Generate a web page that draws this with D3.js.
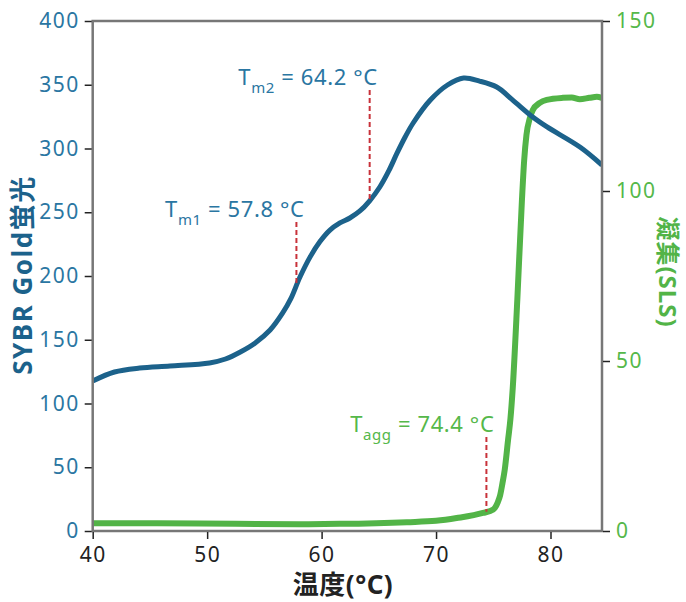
<!DOCTYPE html>
<html>
<head>
<meta charset="utf-8">
<script src="https://cdn.jsdelivr.net/npm/d3@7/dist/d3.min.js"></script>
<style>
  html, body { margin: 0; padding: 0; background: #fff; }
  svg { display: block; }
  text { font-family: "Noto Sans", "Noto Sans CJK JP", sans-serif; }
</style>
</head>
<body>
<svg id="chart" width="686" height="602"></svg>
<script>
// Temperature (°C) samples for the SYBR Gold fluorescence trace
const sybrTemp = [40.0, 41.9, 44.1, 46.75, 50.2, 51.6, 52.9, 54.2, 55.5, 56.6, 57.3, 58.1, 59.0, 59.86, 60.73, 61.6, 62.47, 63.35, 64.2, 65.1, 65.9, 66.6, 67.3, 68.0, 69.5, 71.0, 72.4, 73.8, 75.3, 76.7, 78.45, 79.7, 82.6, 84.5];
const sybrValue = [117.6, 124.7, 127.8, 129.4, 131.8, 134.9, 140.4, 147.5, 157.6, 171, 182, 199, 215, 227, 236, 241.6, 245.5, 251, 259, 270, 283, 296.5, 309, 320, 338, 349.8, 355.3, 352.9, 348.2, 338, 324.7, 316.9, 301, 287];

// Temperature (°C) samples for the static light scattering trace
const slsTemp = [40.0, 49.37, 58.1, 61.6, 67.45, 70.0, 71.8, 74.1, 75.0, 75.4, 75.6, 75.8, 76.0, 76.3, 76.5, 76.7, 77.1, 77.5, 77.7, 77.9, 78.2, 78.45, 79.06, 79.67, 81.07, 81.86, 82.56, 83.4, 84.05, 84.48];
const slsValue = [2.3, 2.2, 2.0, 2.1, 2.6, 3.0, 3.8, 5.3, 6.3, 8.5, 10.5, 14, 18, 27, 33, 42, 68, 97, 109, 116.5, 121.5, 123.8, 125.9, 126.8, 127.4, 127.5, 127.0, 127.4, 127.7, 127.4];

// Axis ticks
const xTicks = [40, 50, 60, 70, 80];
const leftTicks = [0, 50, 100, 150, 200, 250, 300, 350, 400];
const rightTicks = [0, 50, 100, 150];

// Transition temperatures
const tm1 = 57.8, tm2 = 64.2, tagg = 74.4;

const blue = "#1c628b", blueText = "#2a76a2";
const green = "#52b447", greenText = "#55b84a";

const svg = d3.select("#chart");
const m = { left: 92.7, right: 602, top: 21, bottom: 531 };

const x = d3.scaleLinear().domain([40, 84.5]).range([m.left, m.right]);
const yL = d3.scaleLinear().domain([0, 400]).range([m.bottom, m.top]);
const yR = d3.scaleLinear().domain([0, 150]).range([m.bottom, m.top]);

const sybr = sybrTemp.map((t, i) => [t, sybrValue[i]]);
const sls = slsTemp.map((t, i) => [t, slsValue[i]]);

// Traces, clipped to the plot frame
svg.append("clipPath").attr("id", "plot")
  .append("rect").attr("x", m.left).attr("y", m.top - 5)
  .attr("width", m.right - m.left).attr("height", m.bottom - m.top + 5);

const plot = svg.append("g").attr("clip-path", "url(#plot)");
plot.append("path").datum(sls)
  .attr("fill", "none").attr("stroke", green).attr("stroke-width", 6)
  .attr("stroke-linejoin", "round")
  .attr("d", d3.line().x(d => x(d[0])).y(d => yR(d[1])).curve(d3.curveMonotoneX));
plot.append("path").datum(sybr)
  .attr("fill", "none").attr("stroke", blue).attr("stroke-width", 5)
  .attr("stroke-linejoin", "round")
  .attr("d", d3.line().x(d => x(d[0])).y(d => yL(d[1])).curve(d3.curveCatmullRom.alpha(0.5)));

// Frame
svg.append("rect")
  .attr("x", m.left).attr("y", m.top)
  .attr("width", m.right - m.left).attr("height", m.bottom - m.top)
  .attr("fill", "none").attr("stroke", "#777").attr("stroke-width", 2.5);

// Axes
function styleAxis(g, color) {
  g.select(".domain").remove();
  g.selectAll(".tick line").attr("stroke", "#222").attr("stroke-width", 1.5);
  g.selectAll(".tick text").attr("fill", color).attr("font-size", 21)
    .attr("letter-spacing", "1.5px")
    .style("font-family", "'Noto Sans', sans-serif");
}

svg.append("g").attr("transform", `translate(0,${m.bottom + 1})`)
  .call(d3.axisBottom(x).tickValues(xTicks).tickSize(7).tickPadding(8))
  .call(g => styleAxis(g, "#222"));

svg.append("g").attr("transform", `translate(${m.left - 1},0)`)
  .call(d3.axisLeft(yL).tickValues(leftTicks).tickSize(7).tickPadding(5))
  .call(g => styleAxis(g, blueText));

svg.append("g").attr("transform", `translate(${m.right + 1},0)`)
  .call(d3.axisRight(yR).tickValues(rightTicks).tickSize(7).tickPadding(6))
  .call(g => styleAxis(g, greenText));

// Axis titles
svg.append("text")
  .attr("transform", "translate(32,275) rotate(-90)")
  .attr("text-anchor", "middle").attr("font-size", 26).attr("font-weight", 700)
  .attr("letter-spacing", "1.5px")
  .attr("fill", blue).text("SYBR Gold蛍光");

svg.append("text")
  .attr("transform", "translate(659,272) rotate(90)")
  .attr("text-anchor", "middle").attr("font-size", 24).attr("font-weight", 700)
  .attr("letter-spacing", "1px")
  .attr("fill", green).text("凝集(SLS)");

svg.append("text")
  .attr("x", 343).attr("y", 594)
  .attr("text-anchor", "middle").attr("font-size", 26).attr("font-weight", 700)
  .attr("letter-spacing", "0.5px")
  .attr("fill", "#222").text("温度(°C)");

// Interpolated value along a trace
function valueAt(temps, vals, t) {
  const i = d3.bisectLeft(temps, t);
  if (i <= 0) return vals[0];
  if (i >= temps.length) return vals[vals.length - 1];
  const f = (t - temps[i - 1]) / (temps[i] - temps[i - 1]);
  return vals[i - 1] + f * (vals[i] - vals[i - 1]);
}

// Transition markers with labels
const marks = [
  { t: tm1, sub: "m1", baseline: 217, color: blueText, yPix: yL(valueAt(sybrTemp, sybrValue, tm1)) },
  { t: tm2, sub: "m2", baseline: 85, color: blueText, yPix: yL(valueAt(sybrTemp, sybrValue, tm2)) },
  { t: tagg, sub: "agg", baseline: 432, color: greenText, yPix: yR(valueAt(slsTemp, slsValue, tagg)) }
];

marks.forEach(d => {
  const px = x(d.t);
  svg.append("line")
    .attr("x1", px).attr("x2", px)
    .attr("y1", d.baseline + 5).attr("y2", d.yPix)
    .attr("stroke", "#c8323a").attr("stroke-width", 2)
    .attr("stroke-dasharray", "5,3");
  const txt = svg.append("text")
    .attr("x", px + 8).attr("y", d.baseline)
    .attr("text-anchor", "end").attr("font-size", 22)
    .attr("letter-spacing", "0.6px")
    .attr("fill", d.color);
  txt.append("tspan").text("T");
  txt.append("tspan").attr("font-size", 15).attr("dy", 8).text(d.sub);
  txt.append("tspan").attr("dy", -8).text(` = ${d.t.toFixed(1)} °C`);
});
</script>
</body>
</html>
